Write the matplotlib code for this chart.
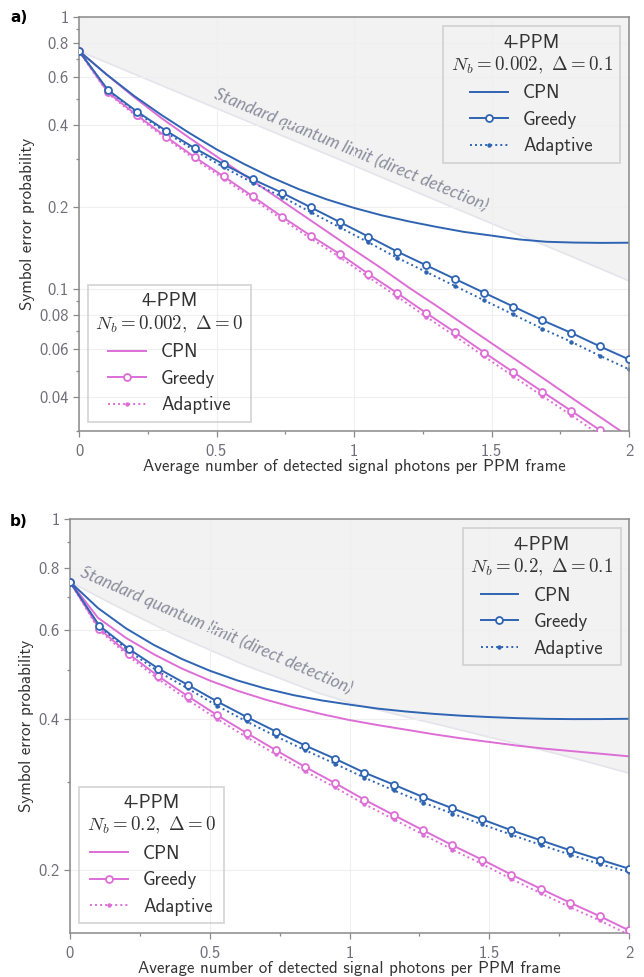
import matplotlib

matplotlib.use("Agg")
import matplotlib.pyplot as plt
import numpy as np
from matplotlib.lines import Line2D
from matplotlib.ticker import NullFormatter

plt.rcParams["font.family"] = ["cmss10", "DejaVu Sans"]
plt.rcParams["mathtext.fontset"] = "cm"
plt.rcParams["axes.unicode_minus"] = False

BLUE = "#2F64B2"
PINK = "#DD6ED6"
SHADE = "#F2F2F3"
SQL_EDGE = "#E4E4EC"
SQL_TEXT = "#8C8C9C"
TICK_COLOR = "#6E6E78"
SPINE_COLOR = "#8A8A8A"
LABEL_COLOR = "#333333"

# x grids: CPN curves sampled every 0.1, markers at 20 equally spaced points
X_FINE = np.round(np.arange(0, 2.001, 0.1), 2)
X_MARK = np.linspace(0, 2, 20)

# ---------------- panel a) N_b = 0.002 ----------------
A_SQL_X = [0, 0.25, 0.5, 0.75, 1.0, 1.25, 1.5, 1.75, 2.0]
A_SQL = [0.75, 0.588, 0.461, 0.362, 0.284, 0.222, 0.174, 0.137, 0.107]

A_CPN_D01 = [0.750, 0.615, 0.513, 0.436, 0.375, 0.326, 0.288, 0.257, 0.2325, 0.2135,
             0.1985, 0.1865, 0.177, 0.169, 0.162, 0.157, 0.152, 0.149, 0.148, 0.1476, 0.1478]
A_GREEDY_D01 = [0.75, 0.539, 0.449, 0.382, 0.329, 0.287, 0.253, 0.226, 0.1996, 0.1763,
                0.1556, 0.137, 0.122, 0.1086, 0.0967, 0.0861, 0.0767, 0.0689, 0.0614, 0.055]
A_ADAPT_D01 = [0.75, 0.536, 0.4446, 0.3764, 0.3225, 0.280, 0.2456, 0.2184, 0.1916, 0.1685,
               0.1482, 0.130, 0.1153, 0.1023, 0.0907, 0.0805, 0.0714, 0.0639, 0.0567, 0.0506]

A_CPN_D0 = [0.750, 0.6145, 0.508, 0.4245, 0.360, 0.307, 0.262, 0.224, 0.191, 0.163,
            0.139, 0.119, 0.101, 0.0866, 0.0739, 0.0631, 0.0539, 0.046, 0.0392, 0.0335, 0.0286]
A_GREEDY_D0 = [0.75, 0.528, 0.435, 0.363, 0.305, 0.259, 0.219, 0.1845, 0.157, 0.1345,
               0.1135, 0.0964, 0.0814, 0.0691, 0.0583, 0.0494, 0.0419, 0.0356, 0.0302, 0.0256]
A_ADAPT_D0 = [0.75, 0.524, 0.430, 0.358, 0.300, 0.254, 0.2145, 0.1805, 0.1533, 0.131,
              0.1104, 0.0936, 0.0789, 0.0669, 0.0564, 0.0477, 0.0404, 0.0343, 0.029, 0.0246]

A_YTICKS = [1, 0.8, 0.6, 0.4, 0.2, 0.1, 0.08, 0.06, 0.04]
A_YMINOR = [0.9, 0.7, 0.5, 0.3, 0.09, 0.07, 0.05, 0.03]

# ---------------- panel b) N_b = 0.2 ----------------
B_SQL_X = [0, 0.125, 0.25, 0.375, 0.5, 0.625, 0.75, 0.875, 1.0,
           1.125, 1.25, 1.375, 1.5, 1.625, 1.75, 1.875, 2.0]
B_SQL = [0.75, 0.689, 0.636, 0.588, 0.549, 0.512, 0.482, 0.453, 0.431,
         0.414, 0.398, 0.383, 0.368, 0.354, 0.340, 0.326, 0.312]

B_CPN_D01 = [0.750, 0.665, 0.606, 0.5615, 0.5266, 0.499, 0.477, 0.4597, 0.4461, 0.4355,
             0.4272, 0.4195, 0.414, 0.4095, 0.406, 0.4035, 0.4015, 0.4002, 0.3997, 0.3998, 0.4003]
B_GREEDY_D01 = [0.75, 0.613, 0.5514, 0.504, 0.4677, 0.4334, 0.4038, 0.3776, 0.354, 0.3335,
                0.3129, 0.2961, 0.2797, 0.2656, 0.2526, 0.2402, 0.2294, 0.2191, 0.21, 0.2014]
B_ADAPT_D01 = [0.75, 0.610, 0.546, 0.497, 0.460, 0.425, 0.3955, 0.3695, 0.3465, 0.326,
               0.3058, 0.2884, 0.2726, 0.2593, 0.2468, 0.2354, 0.2245, 0.2148, 0.2058, 0.1983]

B_CPN_D0 = [0.750, 0.636, 0.58, 0.538, 0.504, 0.477, 0.455, 0.437, 0.422, 0.409,
            0.398, 0.389, 0.381, 0.373, 0.366, 0.36, 0.354, 0.349, 0.345, 0.341, 0.337]
B_GREEDY_D0 = [0.75, 0.6045, 0.5384, 0.4866, 0.4441, 0.4071, 0.3752, 0.3466, 0.3209, 0.2983,
               0.2764, 0.2576, 0.2402, 0.2242, 0.21, 0.196, 0.1837, 0.1723, 0.1621, 0.1518]
B_ADAPT_D0 = [0.75, 0.600, 0.533, 0.480, 0.437, 0.400, 0.368, 0.340, 0.3145, 0.2925,
              0.271, 0.2525, 0.2355, 0.2198, 0.2058, 0.1921, 0.180, 0.1688, 0.1589, 0.1488]

B_YTICKS = [1, 0.8, 0.6, 0.4, 0.2]
B_YMINOR = [0.9, 0.7, 0.5, 0.3]

XTICKS = [0, 0.5, 1, 1.5, 2]
XMINOR = [0.25, 0.75, 1.25, 1.75]

SQL_LABEL = "Standard quantum limit (direct detection)"
XLABEL = "Average number of detected signal photons per PPM frame"
YLABEL = "Symbol error probability"


def _style_axes(ax, ylim, yticks, yminor):
    ax.set_yscale("log")
    ax.set_xlim(0, 2)
    ax.set_ylim(*ylim)
    ax.set_xticks(XTICKS, labels=[f"{v:g}" for v in XTICKS])
    ax.set_xticks(XMINOR, minor=True)
    ax.set_yticks(yticks, labels=[f"{v:g}" for v in yticks])
    ax.set_yticks(yminor, minor=True)
    ax.yaxis.set_minor_formatter(NullFormatter())
    for spine in ax.spines.values():
        spine.set_edgecolor(SPINE_COLOR)
        spine.set_linewidth(1.1)
    ax.tick_params(which="both", direction="out", color=SPINE_COLOR,
                   labelcolor=TICK_COLOR, labelsize=12, width=0.9)
    ax.tick_params(which="major", length=4)
    ax.tick_params(which="minor", length=2.5)
    ax.tick_params(axis="x", which="major", pad=5)
    ax.grid(True, which="major", color="#EFEFEF", linewidth=0.8)


def _handles(color):
    return [
        Line2D([0], [0], color=color, lw=1.4, label="CPN"),
        Line2D([0], [0], color=color, lw=1.4, marker="o", ms=5, mfc="white",
               mew=1.3, label="Greedy"),
        Line2D([0], [0], color=color, lw=1.4, ls=(0, (1, 1.6)), marker="o",
               ms=3.2, mew=0, label="Adaptive"),
    ]


def _legend(ax, color, title, loc, anchor):
    leg = ax.legend(
        handles=_handles(color),
        title=title,
        loc=loc,
        bbox_to_anchor=anchor,
        borderaxespad=0,
        fontsize=13.6,
        title_fontsize=13.6,
        fancybox=False,
        edgecolor="#CCCCCC",
        labelspacing=0.45,
        handlelength=2.0,
        handletextpad=0.8,
        borderpad=0.4,
        numpoints=1,
    )
    leg.get_frame().set_facecolor("none")
    leg.get_frame().set_linewidth(1.3)
    leg.get_title().set_multialignment("center")
    for t in leg.get_texts():
        t.set_color(LABEL_COLOR)
    leg.get_title().set_color(LABEL_COLOR)
    return leg


def _draw_panel(ax, sql_x, sql, curves, nb, text_pos, text_rot, ylim, yticks,
                yminor, legend_pos, ylabel_x):
    ax.fill_between(sql_x, sql, 1, color=SHADE, lw=0, zorder=0.3)
    ax.plot(sql_x, sql, color=SQL_EDGE, lw=1.2, zorder=0.4)
    ax.text(*text_pos, SQL_LABEL, rotation=text_rot, rotation_mode="anchor",
            ha="center", va="center", color=SQL_TEXT, fontsize=12.3,
            family=["Lato", "DejaVu Sans"], style="italic", zorder=0.6)

    for color, cpn, greedy, adapt in curves:
        ax.plot(X_FINE, cpn, color=color, lw=1.4, zorder=2)
        ax.plot(X_MARK, adapt, color=color, lw=1.4, ls=(0, (1, 1.6)),
                marker="o", ms=3.2, mew=0, zorder=2.5)
        ax.plot(X_MARK, greedy, color=color, lw=1.4, marker="o", ms=5,
                mfc="white", mew=1.3, zorder=3)

    _style_axes(ax, ylim, yticks, yminor)

    blue_anchor, pink_anchor = legend_pos
    leg_b = _legend(ax, BLUE, "4-PPM\n" + rf"$N_b = {nb},\ \Delta = 0.1$",
                    "upper right", blue_anchor)
    ax.add_artist(leg_b)
    _legend(ax, PINK, "4-PPM\n" + rf"$N_b = {nb},\ \Delta = 0$",
            "lower left", pink_anchor)

    ax.set_xlabel(XLABEL, fontsize=12.2, color=LABEL_COLOR)
    ax.xaxis.label.set_va("center")
    ax.xaxis.set_label_coords(0.5, -0.085)
    ax.set_ylabel(YLABEL, fontsize=12.2, color=LABEL_COLOR)
    ax.yaxis.label.set_va("center")
    ax.yaxis.set_label_coords(ylabel_x, 0.5)


fig = plt.figure(figsize=(6.44, 9.77), dpi=100)
W, H = 644, 977
ax_a = fig.add_axes([79 / W, 1 - 431 / H, 550 / W, 414 / H])
ax_b = fig.add_axes([70 / W, 1 - 933 / H, 559 / W, 414 / H])

_draw_panel(
    ax_a, A_SQL_X, A_SQL,
    [(PINK, A_CPN_D0, A_GREEDY_D0, A_ADAPT_D0),
     (BLUE, A_CPN_D01, A_GREEDY_D01, A_ADAPT_D01)],
    "0.002", (0.99, 0.326), -22.5, (0.03, 1), A_YTICKS, A_YMINOR,
    ((0.984, 0.978), (0.016, 0.0225)), -0.0945,
)
_draw_panel(
    ax_b, B_SQL_X, B_SQL,
    [(PINK, B_CPN_D0, B_GREEDY_D0, B_ADAPT_D0),
     (BLUE, B_CPN_D01, B_GREEDY_D01, B_ADAPT_D01)],
    "0.2", (0.525, 0.600), -23.5, (0.15, 1), B_YTICKS, B_YMINOR,
    ((0.9857, 0.9775), (0.0166, 0.0234)), -0.077,
)

fig.text(19 / W, 1 - 17 / H, "a)", fontsize=11, fontweight="bold",
         family="DejaVu Sans", ha="center", va="center")
fig.text(19 / W, 1 - 521 / H, "b)", fontsize=11, fontweight="bold",
         family="DejaVu Sans", ha="center", va="center")

fig.savefig("out.png", dpi=100, facecolor="white")
